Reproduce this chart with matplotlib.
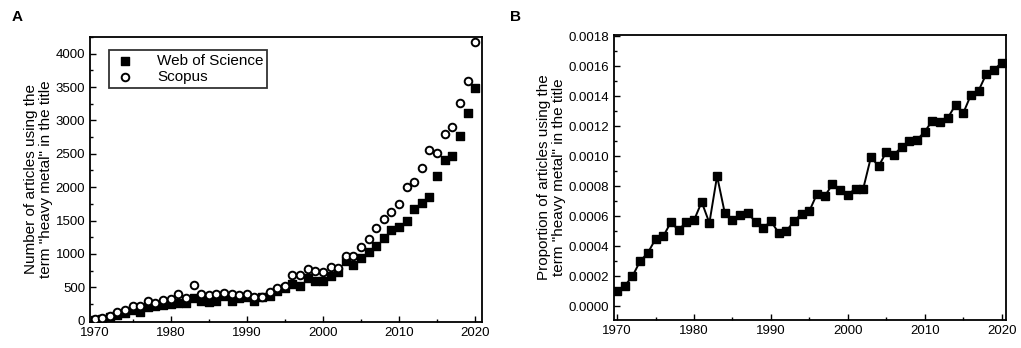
import numpy as np
import matplotlib.pyplot as plt
from matplotlib.ticker import MultipleLocator

plt.rcParams['font.family'] = ['Liberation Sans', 'DejaVu Sans']

years = list(range(1970, 2021))

wos = [15, 25, 55, 90, 115, 165, 130, 205, 215, 240,
       250, 265, 265, 340, 300, 285, 300, 375, 290, 335,
       350, 295, 350, 370, 440, 490, 555, 515, 640, 600,
       590, 675, 725, 890, 835, 935, 1035, 1120, 1235, 1360,
       1410, 1495, 1675, 1760, 1860, 2165, 2405, 2465, 2765, 3115,
       3490]

scopus = [25, 40, 65, 125, 165, 215, 225, 290, 265, 315,
          325, 405, 335, 530, 405, 390, 405, 415, 400, 385,
          405, 350, 355, 430, 490, 515, 690, 690, 780, 750,
          725, 800, 785, 975, 970, 1110, 1225, 1395, 1530, 1625,
          1750, 2005, 2075, 2290, 2550, 2505, 2790, 2900, 3265, 3585,
          4175]

proportion = [0.000102, 0.000135, 0.000200, 0.000300, 0.000355, 0.000448, 0.000466, 0.000560, 0.000506, 0.000564,
              0.000573, 0.000695, 0.000555, 0.000868, 0.000622, 0.000573, 0.000606, 0.000624, 0.000560, 0.000522,
              0.000566, 0.000490, 0.000500, 0.000568, 0.000617, 0.000635, 0.000750, 0.000735, 0.000812, 0.000777,
              0.000744, 0.000784, 0.000784, 0.000994, 0.000934, 0.001028, 0.001012, 0.001061, 0.001101, 0.001110,
              0.001165, 0.001239, 0.001228, 0.001257, 0.001343, 0.001288, 0.001410, 0.001439, 0.001550, 0.001578,
              0.001625]

fig = plt.figure(figsize=(10.21, 3.48), dpi=100)
W, H = 1021, 348
ax1 = fig.add_axes([90 / W, 1 - 322 / H, 392 / W, 285 / H])
ax2 = fig.add_axes([614 / W, 1 - 320 / H, 392 / W, 285 / H])


def style(ax):
    for s in ax.spines.values():
        s.set_linewidth(1.3)
    ax.tick_params(which='both', direction='in', labelsize=9.5, width=1.0,
                   top=False, right=False)
    ax.tick_params(which='major', length=4)
    ax.tick_params(which='minor', length=2.5)
    ax.xaxis.set_major_locator(MultipleLocator(10))
    ax.xaxis.set_minor_locator(MultipleLocator(5))


# panel A
ax1.scatter(years, wos, marker='s', s=28, color='black', label='Web of Science', zorder=3)
ax1.scatter(years, scopus, marker='o', s=30, facecolor='white', edgecolor='black',
            linewidth=1.4, label='Scopus', zorder=4)
ax1.set_xlim(1969.4, 2020.9)
ax1.set_ylim(-20, 4250)
ax1.yaxis.set_major_locator(MultipleLocator(500))
ax1.yaxis.set_minor_locator(MultipleLocator(250))
style(ax1)
ax1.set_ylabel('Number of articles using the\nterm "heavy metal" in the title', fontsize=11,
               linespacing=1.1, labelpad=2)
leg = ax1.legend(loc='upper left', bbox_to_anchor=(0.048, 0.954), fontsize=11,
                 frameon=True, fancybox=False, edgecolor='black', handletextpad=1.3,
                 borderpad=0.25, labelspacing=0.15, handlelength=1.6, borderaxespad=0)
leg.get_frame().set_linewidth(1.3)

# panel B
ax2.plot(years, proportion, color='black', linewidth=1.4, marker='s', markersize=5.5)
ax2.set_xlim(1969.6, 2020.56)
ax2.set_ylim(-0.000093, 0.00181)
ax2.yaxis.set_major_locator(MultipleLocator(0.0002))
ax2.yaxis.set_minor_locator(MultipleLocator(0.0001))
ax2.yaxis.set_major_formatter(plt.FormatStrFormatter('%.4f'))
style(ax2)
ax2.set_ylabel('Proportion of articles using the\nterm "heavy metal" in the title', fontsize=11,
               linespacing=1.1, labelpad=2)

fig.text(12 / W, 1 - 17 / H, 'A', fontsize=11, fontweight='bold', va='center')
fig.text(510 / W, 1 - 17 / H, 'B', fontsize=11, fontweight='bold', va='center')

fig.savefig('out.png', dpi=100)
